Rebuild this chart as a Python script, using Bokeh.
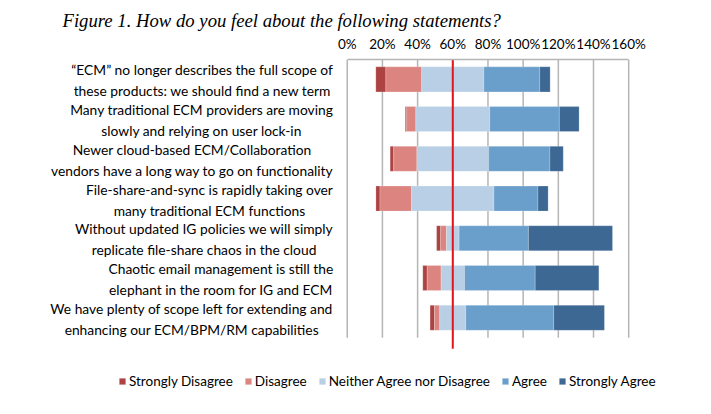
from bokeh.plotting import figure
from bokeh.models import Range1d, Label, Legend, LegendItem, ColumnDataSource, FixedTicker
from bokeh.embed import file_html
from bokeh.resources import INLINE

title = "Figure 1. How do you feel about the following statements?"
statements = [
    "\u201cECM\u201d no longer describes the full scope of\nthese products: we should find a new term",
    "Many traditional ECM providers are moving\nslowly and relying on user lock-in",
    "Newer cloud-based ECM/Collaboration\nvendors have a long way to go on functionality",
    "File-share-and-sync is rapidly taking over\nmany traditional ECM functions",
    "Without updated IG policies we will simply\nreplicate file-share chaos in the cloud",
    "Chaotic email management is still the\nelephant in the room for IG and ECM",
    "We have plenty of scope left for extending and\nenhancing our ECM/BPM/RM capabilities",
]
series_names = ["Strongly Disagree", "Disagree", "Neither Agree nor Disagree", "Agree", "Strongly Agree"]
strongly_disagree = [5.7, 0.8, 2.0, 2.3, 2.3, 2.5, 2.5]
disagree = [20.4, 5.2, 13.2, 18.0, 3.3, 7.9, 3.0]
neutral = [35.3, 42.0, 40.8, 46.8, 7.2, 13.3, 14.8]
agree = [31.8, 39.6, 34.8, 25.0, 39.4, 40.2, 50.0]
strongly_agree = [5.9, 11.2, 7.6, 5.8, 47.8, 36.2, 28.8]
center_line = 60
tick_values = [0, 20, 40, 60, 80, 100, 120, 140, 160]
tick_labels = ["0%", "20%", "40%", "60%", "80%", "100%", "120%", "140%", "160%"]
colors = ["#AD4242", "#DB8480", "#B8CFE5", "#6B9FCB", "#3C6893"]

n = len(statements)
series = [strongly_disagree, disagree, neutral, agree, strongly_agree]

# frame spans the full width so the statement labels and legend can live inside it
p = figure(width=710, height=412, x_range=Range1d(-197.1, 206.5), y_range=Range1d(n + 0.88, -0.5),
           x_axis_location="above", y_axis_location=None,
           output_backend="svg", toolbar_location=None,
           min_border_left=0, min_border_right=0, min_border_top=59, min_border_bottom=20)
p.outline_line_color = None
p.xgrid.visible = False
p.ygrid.visible = False

p.title.text = title
p.title.text_font = "Liberation Serif"
p.title.text_font_style = "italic"
p.title.text_font_size = "18.7px"
p.title.align = "left"
p.title.offset = 62
p.title.standoff = 4
p.title.text_color = "black"

ax = p.xaxis[0]
ax.ticker = FixedTicker(ticks=tick_values)
ax.major_label_overrides = {v: l for v, l in zip(tick_values, tick_labels)}
ax.axis_line_color = "#b5b5b5"
ax.axis_line_width = 1.5
ax.major_tick_out = 0
ax.major_tick_in = 0
ax.minor_tick_out = 0
ax.minor_tick_in = 0
ax.major_label_text_font = "Lato"
ax.major_label_text_font_size = "13.5px"
ax.major_label_text_color = "black"
ax.major_label_standoff = 8
ax.bounds = (tick_values[0], tick_values[-1])

# grid lines limited to the category band
p.segment(x0=tick_values, y0=[-0.5] * len(tick_values), x1=tick_values, y1=[n - 0.5] * len(tick_values),
          line_color="#b5b5b5", line_width=1.5)

ys = list(range(n))
starts = [center_line - strongly_disagree[i] - disagree[i] - neutral[i] / 2 for i in range(n)]
renderers = []
cum = list(starts)
for name, vals, col in zip(series_names, series, colors):
    left = list(cum)
    right = [l + v for l, v in zip(left, vals)]
    src = ColumnDataSource(dict(y=ys, left=left, right=right))
    r = p.hbar(y="y", left="left", right="right", height=0.63, source=src,
               fill_color=col, line_color="white", line_alpha=0.35, line_width=0.6)
    renderers.append((name, r))
    cum = right

# red reference line, reaching a little below the bars
p.segment(x0=[center_line], y0=[-0.5], x1=[center_line], y1=[n - 0.22],
          line_color="#E3161C", line_width=2)

for i, s in enumerate(statements):
    p.add_layout(Label(x=0, y=i, x_offset=-14, y_offset=-1, text=s, anchor="center_right",
                       text_align="center", text_font="Lato", text_font_size="13.8px",
                       text_color="black", text_line_height=1.23))

legend = Legend(items=[LegendItem(label=nm, renderers=[r]) for nm, r in renderers],
                orientation="horizontal", location=(118, 3), glyph_width=8, glyph_height=8,
                label_standoff=3, spacing=11, padding=0, margin=0, border_line_color=None,
                background_fill_alpha=0, label_text_font="Lato", label_text_font_size="13.5px",
                label_text_color="black")
p.add_layout(legend, "center")

open("out.html", "w").write(file_html(p, INLINE))
